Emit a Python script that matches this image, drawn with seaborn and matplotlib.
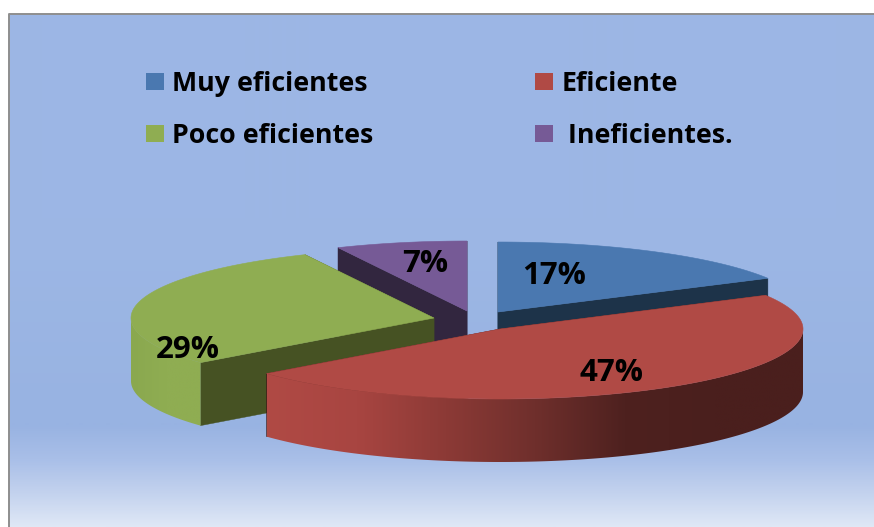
import numpy as np
import matplotlib
matplotlib.use("Agg")
import matplotlib.pyplot as plt
from matplotlib.patches import Patch, Polygon
import seaborn as sns

# ---- data
categories = ["Muy eficientes", "Eficiente", "Poco eficientes", " Ineficientes."]
values = [17, 47, 29, 7]
legend_order = [0, 2, 1, 3]

# ---- style
top_colors = ["#4a78b0", "#b04a45", "#8fad52", "#765a96"]
cut_colors = ["#1d3349", "#3f1a18", "#465223", "#32263f"]
wall_stops = [["#2c4a6e", "#2c4a6e"],
              ["#b04a45", "#a84541", "#8c3a36", "#6f2f2c", "#4e211f", "#4a1f1d", "#4a1f1d"],
              ["#8aa84f", "#8fad52", "#8fad52"],
              ["#4a3860", "#4a3860"]]
centers = [(498, 312), (500, 329), (434, 318), (467, 311)]
radii_x = [308, 303, 303, 303]
label_pos = [(554, 276), (612, 373), (188, 350), (425, 264)]
RY, DEPTH = 70, 63

sns.set_theme(style="white")
plt.rcParams['font.family'] = ['Open Sans', 'DejaVu Sans']

fig = plt.figure(figsize=(8.74, 5.27), dpi=100, facecolor="white")
ax = fig.add_axes([0, 0, 1, 1])

# background gradient of the chart area
grad_top = sns.blend_palette(["#9cb6e5", "#9db7e5", "#98b3e2"], 411)
grad_bot = sns.blend_palette(["#98b3e2", "#a9bfe8", "#c3d2ee", "#dfe8f6"], 102)
grad = np.array(list(grad_top) + list(grad_bot))[:, None, :]
ax.imshow(grad, extent=(9, 874, 527, 14), aspect="auto", zorder=0, interpolation="bilinear")
ax.plot([8.5, 8.5, 874], [527, 13.5, 13.5], color="#8e8e8e", lw=1.4, zorder=1, solid_capstyle="butt")


def rim(cx, cy, rx, t):
    return cx + rx * np.sin(t), cy - RY * np.cos(t)


# angular extents come from the values
fracs = np.array(values) / sum(values)
ends = np.cumsum(fracs) * 2 * np.pi
starts = ends - fracs * 2 * np.pi

# painter's order: back slices first
z = 2
for i in [3, 0, 2, 1]:
    cx, cy = centers[i]
    rx = radii_x[i]
    a0, a1 = starts[i], ends[i]
    # flat cut faces
    for a in (a0, a1):
        ex, ey = rim(cx, cy, rx, a)
        ax.fill([cx, ex, ex, cx], [cy, ey, ey + DEPTH, cy + DEPTH],
                color=cut_colors[i], lw=0.3, zorder=z)
    z += 1
    # curved outer wall: only the rim part facing the viewer, a horizontal gradient clipped to it
    f0, f1 = max(a0, np.pi / 2), min(a1, 3 * np.pi / 2)
    if f1 > f0:
        ts = np.linspace(f0, f1, 300)
        wx, wy = rim(cx, cy, rx, ts)
        outline = np.column_stack([np.r_[wx, wx[::-1]], np.r_[wy, wy[::-1] + DEPTH]])
        x0, x1 = wx.min(), wx.max()
        pal = np.array(sns.blend_palette(wall_stops[i], 256))[None, :, :]
        im = ax.imshow(pal, extent=(x0, x1, wy.max() + DEPTH, wy.min()), aspect="auto",
                       zorder=z, interpolation="bilinear")
        im.set_clip_path(Polygon(outline, closed=True, transform=ax.transData))
    z += 1
    # top face
    tx, ty = rim(cx, cy, rx, np.linspace(a0, a1, 200))
    ax.fill(np.r_[cx, tx], np.r_[cy, ty], color=top_colors[i], lw=0.4, zorder=z)
    z += 1

for v, (lx, ly) in zip(values, label_pos):
    ax.text(lx, ly, f"{v}%", ha="center", va="center", fontsize=22.5, fontweight="bold",
            color="black", zorder=50)

handles = [Patch(facecolor=top_colors[i], edgecolor="none", label=categories[i]) for i in legend_order]
leg = ax.legend(handles=handles, ncols=2, frameon=False, loc="upper left",
                bbox_to_anchor=(146, 71), bbox_transform=ax.transData,
                prop={"family": "Open Sans", "weight": "bold", "size": 19.3},
                labelcolor="black",
                borderaxespad=0, borderpad=0, handlelength=0.667, handleheight=0.6,
                handletextpad=0.3, labelspacing=0.97, columnspacing=6.05)
leg.set_zorder(60)

ax.set_xlim(0, 874)
ax.set_ylim(527, 0)
ax.axis("off")
fig.savefig("out.png", dpi=100, facecolor="white")
